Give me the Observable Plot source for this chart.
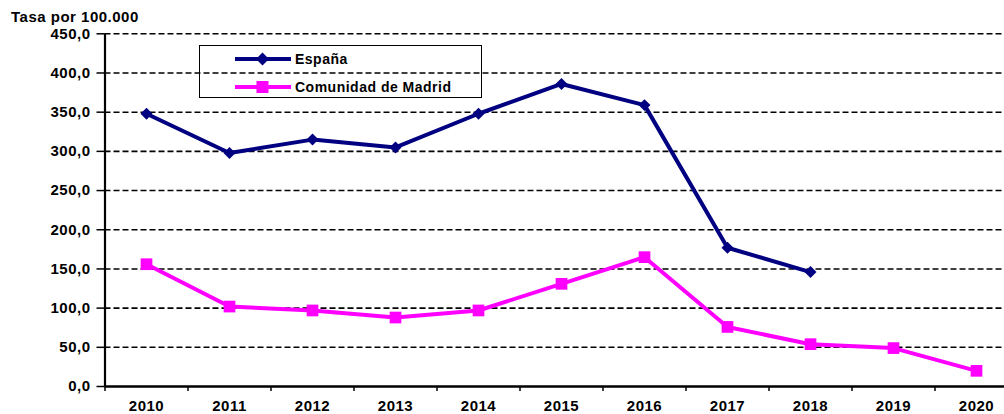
<!DOCTYPE html>
<html>
<head>
<meta charset="utf-8">
<script src="https://cdn.jsdelivr.net/npm/d3@7"></script>
<script src="https://cdn.jsdelivr.net/npm/@observablehq/plot@0.6"></script>
<style>
  body { margin: 0; background: #fff; }
  #wrap { position: relative; width: 1004px; height: 414px; overflow: hidden; }
  #wrap svg text { font-weight: bold; }
  #wrap svg g[aria-label="y-axis tick label"] text { letter-spacing: 0.5px; }
  #wrap svg g[aria-label="x-axis tick label"] text { letter-spacing: 0.5px; }
  #title { position: absolute; left: 11px; top: 8px; font: bold 15px "Liberation Sans", Arial, sans-serif; letter-spacing: 0.5px; color: #000; }
  #legend { position: absolute; left: 199px; top: 45px; width: 283px; height: 53px; border: 1px solid #000; box-sizing: border-box; }
  .row { position: absolute; left: 35px; display: flex; align-items: center; font: bold 14px "Liberation Sans", Arial, sans-serif; letter-spacing: 0.5px; color: #000; }
  .row svg { margin-right: 4px; }
</style>
</head>
<body>
<div id="wrap">
  <div id="title">Tasa por 100.000</div>
  <div id="legend"></div>
</div>
<script>
// Tasa por 100.000 habitantes, 2010-2020
const years = [2010, 2011, 2012, 2013, 2014, 2015, 2016, 2017, 2018, 2019, 2020];
const espanaYears = [2010, 2011, 2012, 2013, 2014, 2015, 2016, 2017, 2018];
const espana = [348, 298, 315, 305, 348, 386, 359, 177, 146];
const madrid = [156, 102, 97, 88, 97, 131, 165, 76, 54, 49, 20];
const yTicks = [0, 50, 100, 150, 200, 250, 300, 350, 400, 450];

const seriesNames = ["España", "Comunidad de Madrid"];
const seriesColors = ["#000080", "#FF00FF"];

const espRows = espanaYears.map((year, i) => ({year, value: espana[i]}));
const madRows = years.map((year, i) => ({year, value: madrid[i]}));

// category boundaries between years, where the x-axis ticks sit
const boundaries = years.map(y => y - 0.5);
const fmt = d => d.toFixed(1).replace(".", ",");

const chart = Plot.plot({
  width: 1004,
  height: 414,
  marginLeft: 104.5,
  marginRight: 0,
  marginTop: 33,
  marginBottom: 28,
  style: {fontFamily: "'Liberation Sans', Arial, sans-serif", fontSize: "14px", background: "transparent", overflow: "hidden"},
  x: {type: "linear", domain: [2009.5, 2020.5], range: [104.5, 1017.5], label: null},
  y: {domain: [0, 450], range: [386, 33.3], label: null},
  marks: [
    Plot.ruleY(yTicks.filter(d => d > 0), {stroke: "#000", strokeWidth: 1.6, strokeDasharray: "6,3"}),
    Plot.axisY({ticks: yTicks, tickSize: 8, tickPadding: 6.5, tickFormat: fmt, strokeWidth: 1.5, fontSize: 15}),
    Plot.axisX({ticks: boundaries, tickSize: 5, tickFormat: () => "", strokeWidth: 1.5}),
    Plot.axisX({ticks: years, tickSize: 0, tickPadding: 14.3, tickFormat: d => String(d), fontSize: 15}),
    Plot.ruleX([2009.5], {y1: 0, y2: 450, stroke: "#000", strokeWidth: 2.2}),
    Plot.ruleY([0], {stroke: "#000", strokeWidth: 2.5}),
    Plot.line(espRows, {x: "year", y: "value", stroke: seriesColors[0], strokeWidth: 4}),
    Plot.dot(espRows, {x: "year", y: "value", symbol: "diamond2", r: 5.4, fill: seriesColors[0], stroke: "none"}),
    Plot.line(madRows, {x: "year", y: "value", stroke: seriesColors[1], strokeWidth: 4}),
    Plot.dot(madRows, {x: "year", y: "value", symbol: "square", r: 6.6, fill: seriesColors[1], stroke: "none"})
  ]
});
document.getElementById("wrap").prepend(chart);

// legend: line with marker plus series name
const legend = document.getElementById("legend");
const markers = [
  '<path d="M27.5 1.5 L34 8 L27.5 14.5 L21 8 Z" fill="#000080"/>',
  '<rect x="21.5" y="2" width="12" height="12" fill="#FF00FF"/>'
];
seriesNames.forEach((name, i) => {
  const row = document.createElement("div");
  row.className = "row";
  row.style.top = (i === 0 ? 5 : 33) + "px";
  row.innerHTML = `<svg width="56" height="16"><line x1="0" x2="56" y1="8" y2="8" stroke="${seriesColors[i]}" stroke-width="4"/>${markers[i]}</svg><span>${name}</span>`;
  legend.appendChild(row);
});
</script>
</body>
</html>
